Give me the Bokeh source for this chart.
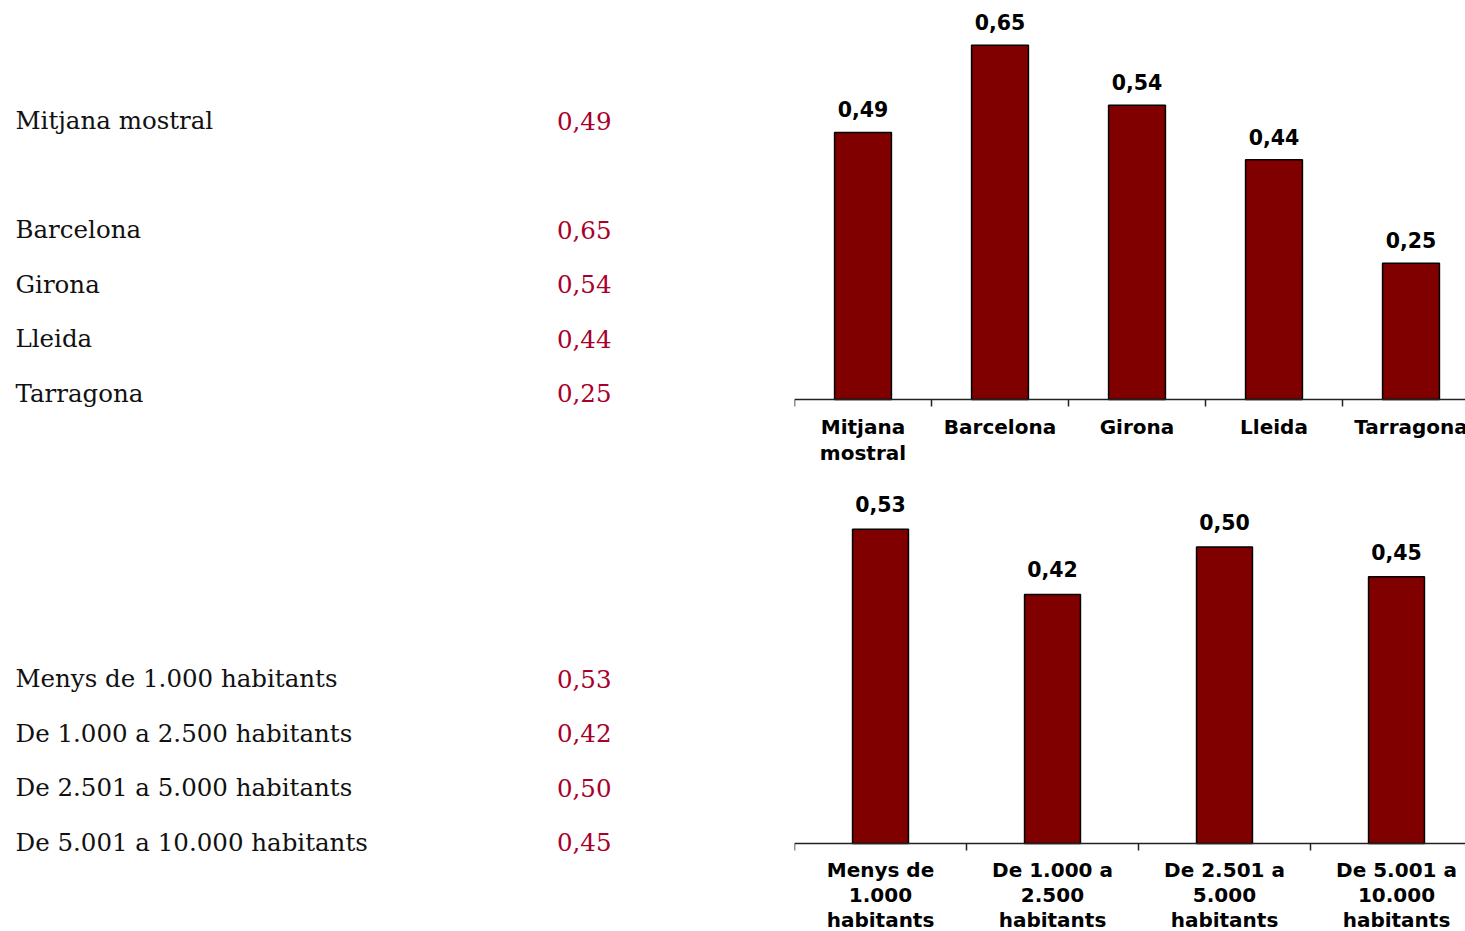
import math
from bokeh.plotting import figure
from bokeh.layouts import row, column
from bokeh.models import Range1d, Span
from bokeh.core.properties import value
from bokeh.embed import file_html
from bokeh.resources import INLINE

# ---------------- data ----------------
region_table_labels = ["Mitjana mostral", "Barcelona", "Girona", "Lleida", "Tarragona"]
region_axis_labels = ["Mitjana\nmostral", "Barcelona", "Girona", "Lleida", "Tarragona"]
region_values = [0.49, 0.65, 0.54, 0.44, 0.25]

size_table_labels = ["Menys de 1.000 habitants", "De 1.000 a 2.500 habitants",
                     "De 2.501 a 5.000 habitants", "De 5.001 a 10.000 habitants"]
size_axis_labels = ["Menys de\n1.000\nhabitants", "De 1.000 a\n2.500\nhabitants",
                    "De 2.501 a\n5.000\nhabitants", "De 5.001 a\n10.000\nhabitants"]
size_values = [0.53, 0.42, 0.50, 0.45]


def fmt(v):
    return f"{v:.2f}".replace(".", ",")


BAR_FILL = "#800000"
TABLE_RED = "#A8002A"
SERIF = value("DejaVu Serif")
SANS = value("DejaVu Sans")

# ---------------- left: text table ----------------
LEFT_W, H = 794, 931
left = figure(width=LEFT_W, height=H, x_range=Range1d(0, LEFT_W),
              y_range=Range1d(H, 0), output_backend="svg", toolbar_location=None,
              x_axis_location=None, y_axis_location=None, min_border=0,
              outline_line_color=None)
left.grid.visible = False

ROW = 54.5
top_rows = [120] + [229 + ROW * i for i in range(len(region_table_labels) - 1)]
bot_rows = [678 + ROW * i for i in range(len(size_table_labels))]
labels_all = region_table_labels + size_table_labels
vals_all = [fmt(v) for v in region_values + size_values]
ys_all = top_rows + bot_rows

left.text(x=[15] * len(labels_all), y=ys_all, text=labels_all, text_font=SERIF,
          text_font_size="24.5px", text_baseline="middle", text_align="left",
          text_color="#111111")
left.text(x=[611] * len(vals_all), y=ys_all, text=vals_all, text_font=SERIF,
          text_font_size="24.5px", text_baseline="middle", text_align="right",
          text_color=TABLE_RED)


# ---------------- bar charts ----------------
def bar_chart(labels, values, width, height, cat_px, unit_px, axis_px, bar_w,
              val_off, lab_off, line_h):
    p = figure(width=width, height=height,
               x_range=Range1d(0, width / cat_px),
               y_range=Range1d(-(height - axis_px) / unit_px, axis_px / unit_px),
               output_backend="svg", toolbar_location=None,
               x_axis_location=None, y_axis_location=None, min_border=0,
               outline_line_color=None)
    p.grid.visible = False
    xs = [i + 0.5 for i in range(len(values))]
    p.vbar(x=xs, top=values, bottom=0, width=bar_w, fill_color=BAR_FILL,
           line_color="black", line_width=1.5)
    p.add_layout(Span(location=0, dimension="width", line_color="#222222",
                      line_width=1.5))
    p.ray(x=list(range(len(values) + 1)), y=[0] * (len(values) + 1), length=7,
          length_units="screen", angle=-math.pi / 2, line_color="#222222",
          line_width=1.5)
    p.text(x=xs, y=values, text=[fmt(v) for v in values], y_offset=-val_off,
           text_align="center", text_baseline="alphabetic", text_font=SANS,
           text_font_style="bold", text_font_size="20.5px", text_color="black")
    p.text(x=xs, y=[0] * len(values), text=labels, y_offset=lab_off,
           text_align="center", text_baseline="top", text_font=SANS,
           text_font_style="bold", text_font_size="20px", text_color="black",
           text_line_height=line_h)
    return p


RIGHT_W = 1465 - LEFT_W
top = bar_chart(region_axis_labels, region_values, RIGHT_W, 470, cat_px=137,
                unit_px=545, axis_px=399, bar_w=0.415, val_off=23, lab_off=15,
                line_h=1.12)
bottom = bar_chart(size_axis_labels, size_values, RIGHT_W, H - 470, cat_px=172,
                   unit_px=593, axis_px=373, bar_w=0.325, val_off=25, lab_off=14,
                   line_h=1.06)

layout = row(left, column(top, bottom))
open("out.html", "w").write(file_html(layout, INLINE))
